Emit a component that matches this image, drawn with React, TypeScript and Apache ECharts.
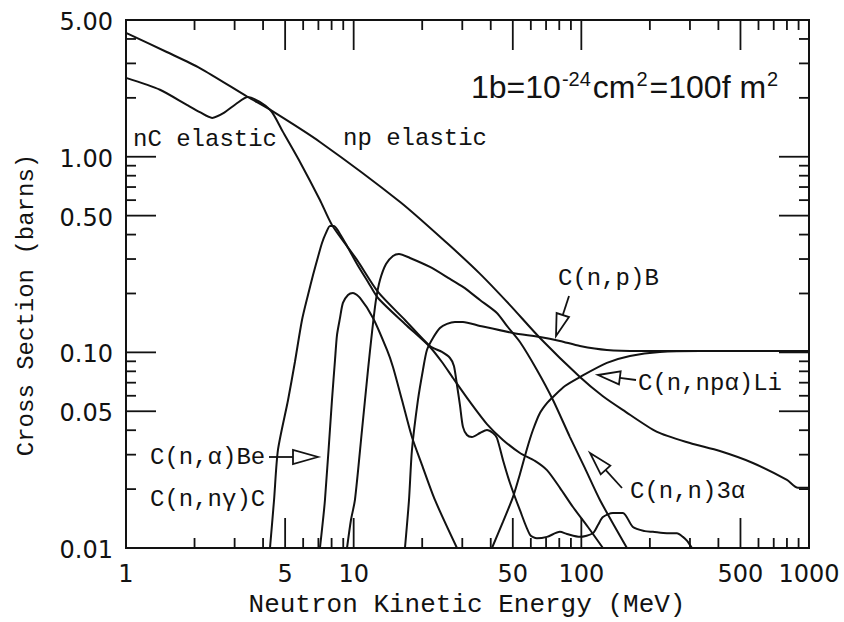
import React, { useEffect, useRef } from "react";
import * as echarts from "echarts";

// ---- axis ranges ----
const X_MIN = 1;
const X_MAX = 1000;
const Y_MIN = 0.01;
const Y_MAX = 5;

// ---- tick labels / ticks ----
const xTickLabels = [1, 5, 10, 50, 100, 500, 1000];
const yTickValues = [0.01, 0.05, 0.1, 0.5, 1, 5];
const yTickLabels = ["0.01", "0.05", "0.10", "0.50", "1.00", "5.00"];
const xMajorTicks = [5, 10, 50, 100, 500];
const xMinorTicks = [2, 3, 4, 6, 7, 8, 9, 20, 30, 40, 60, 70, 80, 90, 200, 300, 400, 600, 700, 800, 900];
const yMajorTicks = [0.05, 0.1, 0.5, 1];
const yMinorTicks = [0.02, 0.03, 0.04, 0.06, 0.07, 0.08, 0.09, 0.2, 0.3, 0.4, 0.6, 0.7, 0.8, 0.9, 2, 3, 4];

// ---- series: [energy MeV, cross section barns] ----
const npElastic: [number, number][] = [
  [1.0, 4.3], [1.51, 3.43], [2.11, 2.84], [3.43, 2.02], [4.29, 1.74], [7.11, 1.19],
  [16.0, 0.587], [25.7, 0.362], [35.9, 0.252], [48.6, 0.1745], [65.8, 0.1185],
  [98.6, 0.0748], [124, 0.0598], [152, 0.0508], [215, 0.0392], [300, 0.0344],
  [406, 0.0313], [567, 0.0272], [800, 0.0223], [894, 0.0203], [1000, 0.0203],
];

const nCElastic: [number, number][] = [
  [1.0, 2.53], [1.41, 2.2], [1.85, 1.84], [2.11, 1.69], [2.39, 1.58], [2.69, 1.675],
  [3.04, 1.86], [3.43, 2.02], [4.29, 1.74], [4.89, 1.34], [5.81, 0.941], [7.11, 0.601],
  [8.03, 0.448], [10.34, 0.297], [12.79, 0.2036], [16.8, 0.1464], [21.63, 0.1078],
  [24.42, 0.1005], [26.49, 0.0936], [27.57, 0.0852], [28.43, 0.0681], [29.3, 0.0538],
  [30.2, 0.0416], [31.45, 0.0378], [33.07, 0.0369], [35.87, 0.0387], [38.49, 0.0401],
  [40.91, 0.0387], [42.59, 0.0365], [45.26, 0.0282], [48.58, 0.0215], [53.76, 0.0156],
  [59.47, 0.0117], [63.83, 0.0112], [70.63, 0.0114], [80.54, 0.0121], [86.46, 0.0118],
  [98.6, 0.0114], [112.4, 0.0119], [118.3, 0.0131], [124.4, 0.0144], [137.7, 0.0151],
  [152.3, 0.0151], [168.5, 0.0128], [190.2, 0.0122], [206.3, 0.0121], [237.6, 0.0119],
  [263, 0.0119], [279.4, 0.0114], [290.9, 0.0109], [306, 0.01],
];

const cNGamma: [number, number][] = [
  [4.29, 0.01], [4.47, 0.0176], [4.65, 0.0317], [5.15, 0.0571], [5.52, 0.0893],
  [5.93, 0.1464], [6.3, 0.1966], [6.63, 0.2487], [6.97, 0.3075], [7.26, 0.3625],
  [7.56, 0.4078], [7.87, 0.443], [8.19, 0.443], [8.71, 0.403], [9.35, 0.35],
  [10.34, 0.2831], [11.56, 0.2291], [12.79, 0.1897], [16.8, 0.1398], [21.63, 0.1066],
  [24.42, 0.0893], [27.3, 0.074], [32.42, 0.0558], [38.49, 0.043], [45.26, 0.0357],
  [53.76, 0.0306], [62.55, 0.0279], [70.63, 0.025], [80.54, 0.0203], [91.87, 0.0162],
  [106.9, 0.0128], [124.4, 0.01],
];

const cNAlpha: [number, number][] = [
  [7.11, 0.01], [7.48, 0.0176], [8.03, 0.0571], [8.28, 0.0914], [8.45, 0.1227],
  [8.71, 0.15], [8.97, 0.1789], [9.44, 0.1966], [9.93, 0.2013], [10.66, 0.1897],
  [12.16, 0.15], [14.01, 0.1029], [14.88, 0.0842], [16.3, 0.0571], [18.03, 0.0369],
  [19.95, 0.0266], [22.75, 0.0176], [28.43, 0.01],
];

const cN3Alpha: [number, number][] = [
  [9.35, 0.01], [9.73, 0.0139], [10.13, 0.0176], [10.88, 0.0401], [11.56, 0.0813],
  [12.03, 0.1257], [12.53, 0.1853], [13.05, 0.2345], [13.87, 0.2831], [14.88, 0.3111],
  [15.81, 0.3185], [17.68, 0.3038], [21.63, 0.2733], [26.49, 0.2373], [30.2, 0.216],
  [35.87, 0.1853], [42.59, 0.1591], [47.12, 0.1365], [53.76, 0.113], [63.83, 0.0813],
  [75.07, 0.0571], [89.13, 0.0369], [103.7, 0.0256], [120.7, 0.0176], [158.6, 0.01],
];

const cNP: [number, number][] = [
  [16.8, 0.01], [17.5, 0.0176], [18.03, 0.0317], [19.16, 0.0571], [20.15, 0.0813],
  [20.98, 0.1029], [22.3, 0.1185], [23.93, 0.1333], [25.7, 0.1398], [27.86, 0.143],
  [30.2, 0.143], [35.87, 0.1365], [50.07, 0.1257], [65.8, 0.1199], [80.54, 0.1144],
  [98.6, 0.1078], [129.5, 0.1029], [180.9, 0.1017], [331.8, 0.1017], [1000, 0.1017],
];

const cNNpAlpha: [number, number][] = [
  [40.5, 0.01], [45.26, 0.0136], [50.07, 0.0182], [53.76, 0.0239], [57.69, 0.0321],
  [61.3, 0.0401], [65.8, 0.049], [70.63, 0.0551], [75.07, 0.0592], [84.72, 0.0673],
  [98.6, 0.0748], [129.5, 0.0883], [163.5, 0.0958], [221.4, 0.1005], [331.8, 0.1017],
  [1000, 0.1017],
];

const INK = "#121212";
const MONO = '"Liberation Mono", "DejaVu Sans Mono", monospace';
const SANS = '"DejaVu Sans", "Liberation Sans", sans-serif';

function lineSeries(name: string, data: [number, number][]) {
  return {
    type: "line",
    name,
    data,
    symbol: "none",
    showSymbol: false,
    smooth: 0.25,
    silent: true,
    z: 2,
    lineStyle: { color: INK, width: 2 },
  };
}

function txt(x: number, y: number, text: string, font: string, align = "left", vAlign = "middle") {
  return {
    type: "text",
    x,
    y,
    style: {
      text,
      font,
      fill: INK,
      align,
      verticalAlign: vAlign,
      textAlign: align,
      textVerticalAlign: vAlign,
    },
  };
}

function xTickSeries(vals: number[], len: number) {
  return {
    type: "custom",
    coordinateSystem: "cartesian2d",
    silent: true,
    z: 3,
    data: vals.map((v) => [v, Y_MIN]),
    renderItem: (_p: any, api: any) => {
      const v = api.value(0);
      const b = api.coord([v, Y_MIN]);
      const t = api.coord([v, Y_MAX]);
      const st = { stroke: INK, lineWidth: 1.8 };
      return {
        type: "group",
        children: [
          { type: "line", shape: { x1: b[0], y1: b[1], x2: b[0], y2: b[1] - len }, style: st },
          { type: "line", shape: { x1: t[0], y1: t[1], x2: t[0], y2: t[1] + len }, style: st },
        ],
      };
    },
  };
}

function yTickSeries(vals: number[], len: number) {
  return {
    type: "custom",
    coordinateSystem: "cartesian2d",
    silent: true,
    z: 3,
    data: vals.map((v) => [X_MIN, v]),
    renderItem: (_p: any, api: any) => {
      const v = api.value(1);
      const l = api.coord([X_MIN, v]);
      const r = api.coord([X_MAX, v]);
      const st = { stroke: INK, lineWidth: 1.8 };
      return {
        type: "group",
        children: [
          { type: "line", shape: { x1: l[0], y1: l[1], x2: l[0] + len, y2: l[1] }, style: st },
          { type: "line", shape: { x1: r[0], y1: r[1], x2: r[0] - len, y2: r[1] }, style: st },
        ],
      };
    },
  };
}

const xLabelSeries = {
  type: "custom",
  coordinateSystem: "cartesian2d",
  silent: true,
  z: 3,
  clip: false,
  data: xTickLabels.map((v) => [v, Y_MIN]),
  renderItem: (_p: any, api: any) => {
    const v = api.value(0);
    const p = api.coord([v, Y_MIN]);
    return txt(p[0], p[1] + 26, String(v), "24px " + SANS, "center", "middle");
  },
};

const yLabelSeries = {
  type: "custom",
  coordinateSystem: "cartesian2d",
  silent: true,
  z: 3,
  clip: false,
  data: yTickValues.map((v, i) => [X_MIN, v, i]),
  renderItem: (_p: any, api: any) => {
    const v = api.value(1);
    const i = api.value(2);
    const p = api.coord([X_MIN, v]);
    return txt(p[0] - 13, p[1] + 2, yTickLabels[i], "24px " + SANS, "right", "middle");
  },
};

function arrow(tail: [number, number], tip: [number, number], headLen: number, headHalf: number) {
  const dx = tip[0] - tail[0];
  const dy = tip[1] - tail[1];
  const L = Math.hypot(dx, dy);
  const ux = dx / L;
  const uy = dy / L;
  const px = -uy;
  const py = ux;
  const bx = tip[0] - ux * headLen;
  const by = tip[1] - uy * headLen;
  return [
    { type: "line", shape: { x1: tail[0], y1: tail[1], x2: bx, y2: by }, style: { stroke: INK, lineWidth: 1.8 } },
    {
      type: "polygon",
      shape: { points: [[tip[0], tip[1]], [bx + px * headHalf, by + py * headHalf], [bx - px * headHalf, by - py * headHalf]] },
      style: { fill: "#fff", stroke: INK, lineWidth: 1.8 },
    },
  ];
}

const graphics: any[] = [
  txt(133, 139, "nC elastic", "24px " + MONO),
  txt(343, 138, "np elastic", "24px " + MONO),
  txt(558, 278, "C(n,p)B", "24px " + MONO),
  txt(638, 383, "C(n,npα)Li", "24px " + MONO),
  txt(630, 491, "C(n,n)3α", "24px " + MONO),
  txt(150, 457, "C(n,α)Be", "24px " + MONO),
  txt(150, 499, "C(n,nγ)C", "24px " + MONO),
  ...arrow([269, 457], [318, 457], 25, 7),
  ...arrow([569, 296], [556, 336], 22, 6.5),
  ...arrow([636, 380], [598, 375], 22, 6.5),
  ...arrow([622, 488], [590, 453], 23, 6.5),
  txt(467, 605, "Neutron Kinetic Energy (MeV)", "26px " + MONO, "center", "middle"),
  {
    type: "text",
    x: 26,
    y: 305,
    rotation: Math.PI / 2,
    style: {
      text: "Cross Section (barns)",
      font: "24px " + MONO,
      fill: INK,
      align: "center",
      verticalAlign: "middle",
      textAlign: "center",
      textVerticalAlign: "middle",
    },
  },
  {
    type: "text",
    x: 471,
    y: 87,
    style: {
      text: "{n|1b=10}{s|-24}{n|cm}{s|2}{n|=100f m}{s|2}",
      fill: INK,
      align: "left",
      verticalAlign: "middle",
      textAlign: "left",
      textVerticalAlign: "middle",
      rich: {
        n: { fontFamily: '"Liberation Sans", Arial, sans-serif', fontSize: 32, lineHeight: 36, fill: INK },
        s: { fontFamily: '"Liberation Sans", Arial, sans-serif', fontSize: 20, lineHeight: 20, verticalAlign: "top", padding: [0, 2, 0, 1], fill: INK },
      },
    },
  },
];

const option: any = {
  animation: false,
  backgroundColor: "#fff",
  grid: { left: 126, right: 35, top: 20, bottom: 74, show: true, borderColor: INK, borderWidth: 2, backgroundColor: "transparent" },
  xAxis: {
    type: "log",
    logBase: 10,
    min: X_MIN,
    max: X_MAX,
    axisLine: { show: false },
    axisTick: { show: false },
    axisLabel: { show: false },
    splitLine: { show: false },
  },
  yAxis: {
    type: "log",
    logBase: 10,
    min: Y_MIN,
    max: Y_MAX,
    axisLine: { show: false },
    axisTick: { show: false },
    axisLabel: { show: false },
    splitLine: { show: false },
  },
  series: [
    lineSeries("np elastic", npElastic),
    lineSeries("nC elastic", nCElastic),
    lineSeries("C(n,nγ)C", cNGamma),
    lineSeries("C(n,α)Be", cNAlpha),
    lineSeries("C(n,n)3α", cN3Alpha),
    lineSeries("C(n,p)B", cNP),
    lineSeries("C(n,npα)Li", cNNpAlpha),
    xTickSeries(xMajorTicks, 30),
    xTickSeries(xMinorTicks, 10),
    yTickSeries(yMajorTicks, 30),
    yTickSeries(yMinorTicks, 10),
    xLabelSeries,
    yLabelSeries,
  ],
  graphic: { elements: graphics },
};

export default function App() {
  const ref = useRef<HTMLDivElement>(null);
  useEffect(() => {
    if (!ref.current) return;
    const chart = echarts.init(ref.current, undefined, { renderer: "svg" });
    chart.setOption(option);
    return () => chart.dispose();
  }, []);
  return (
    <div
      ref={ref}
      style={{ position: "fixed", left: 0, top: 0, width: 844, height: 622, background: "#fff" }}
    />
  );
}
